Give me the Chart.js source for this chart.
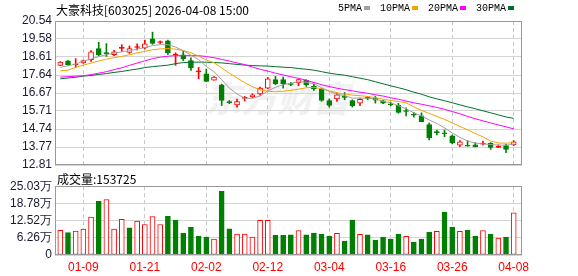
<!DOCTYPE html>
<html>
<head>
<meta charset="utf-8">
<script src="https://cdn.jsdelivr.net/npm/chart.js@4.4.1/dist/chart.umd.min.js"></script>
<style>
    body { margin: 0; width: 578px; height: 276px; overflow: hidden; position: relative; background: #fff; }
    #title { position: absolute; left: 56px; top: 1px; font: 12px "Noto Sans CJK SC"; color: #000; white-space: nowrap; }
    #legend { position: absolute; left: 338px; top: 3px; font: 10px "Liberation Mono"; color: #000; white-space: nowrap; }
    #legend .mk { display: inline-block; width: 6px; height: 4px; margin: 0 10px 1px 2px; vertical-align: middle; }
    #vol-title { position: absolute; left: 57px; top: 170px; font: 12px "Noto Sans CJK SC"; color: #000; white-space: nowrap; }
    #wm { position: absolute; left: 205px; top: 70px; font: italic bold 36px "Noto Sans CJK SC"; color: #f1f1f1; white-space: nowrap; }
    #price { position: absolute; left: 0; top: 0; }
    #volume { position: absolute; left: 0; top: 176px; }
</style>
</head>
<body>
<div id="wm">东方财富</div>
<canvas id="price" width="578" height="176"></canvas>
<canvas id="volume" width="578" height="100"></canvas>
<div id="title">大豪科技[603025] 2026-04-08 15:00</div>
<div id="legend">5PMA<span class="mk" style="background:#a0a0a0"></span>10PMA<span class="mk" style="background:#f5a300"></span>20PMA<span class="mk" style="background:#ff00ff"></span>30PMA<span class="mk" style="background:#00702c"></span></div>
<div id="vol-title">成交量:153725</div>

<script>
// 交易日
const dates = ['01-06','01-07','01-08','01-09','01-12','01-13','01-14','01-15','01-16','01-19',
    '01-20','01-21','01-22','01-23','01-26','01-27','01-28','01-29','01-30','02-02',
    '02-03','02-04','02-05','02-06','02-09','02-10','02-11','02-12','02-13','02-24',
    '02-25','02-26','02-27','03-02','03-03','03-04','03-05','03-06','03-09','03-10',
    '03-11','03-12','03-13','03-16','03-17','03-18','03-19','03-20','03-23','03-24',
    '03-25','03-26','03-27','03-30','03-31','04-01','04-02','04-03','04-07','04-08'];

// K线 (开/高/低/收)
const openP = [18.16,18.40,18.20,18.29,18.47,19.06,18.84,18.73,19.07,18.86,
    19.12,19.10,19.58,19.39,19.47,18.71,18.73,18.41,17.81,17.71,
    17.37,17.12,16.21,16.03,16.39,16.46,16.62,16.94,17.39,17.39,
    17.18,17.21,17.35,17.03,16.89,16.27,16.36,16.49,16.27,16.13,
    16.44,16.40,16.26,16.09,16.01,15.73,15.53,15.45,14.98,14.60,
    14.54,14.37,13.87,13.87,13.89,13.93,13.98,13.76,13.85,13.89];
const highP = [18.36,18.42,18.52,18.44,18.95,19.40,19.33,18.97,19.27,19.20,
    19.31,19.51,19.94,19.47,19.51,18.83,18.91,18.56,18.05,17.96,
    17.55,17.15,16.27,16.35,16.49,16.63,16.99,17.51,17.57,17.53,
    17.24,17.43,17.39,17.17,16.92,16.35,16.67,16.70,16.31,16.40,
    16.49,16.49,16.28,16.18,16.12,15.88,15.63,15.61,15.06,14.69,
    14.69,14.42,14.12,14.12,14.01,14.09,14.01,13.89,13.92,14.12];
const lowP = [18.14,18.16,18.05,18.27,18.37,18.68,18.64,18.68,18.91,18.81,
    18.99,19.04,19.29,19.33,18.75,18.16,18.41,17.89,17.44,17.28,
    17.36,16.00,16.10,15.92,16.24,16.42,16.56,16.90,17.12,16.94,
    17.07,17.07,17.03,16.81,16.23,15.92,16.22,16.31,15.92,16.00,
    16.31,16.13,16.10,15.99,15.59,15.45,15.38,15.13,14.15,14.42,
    14.33,13.94,13.79,13.82,13.78,13.87,13.65,13.74,13.47,13.85];
const closeP = [18.34,18.20,18.23,18.41,18.88,18.73,18.79,18.88,19.12,19.06,
    19.17,19.31,19.33,19.44,18.83,18.76,18.50,18.02,17.86,17.30,
    17.53,16.27,16.16,16.22,16.44,16.58,16.94,17.44,17.17,17.17,
    17.13,17.39,17.12,16.89,16.27,16.01,16.58,16.44,15.99,16.34,
    16.39,16.29,16.13,16.04,15.63,15.68,15.48,15.14,14.26,14.55,
    14.49,14.01,14.05,13.82,13.78,13.98,13.76,13.81,13.65,14.06];

// 均线
const ma5 = [18.05,18.14,18.22,18.39,18.49,18.63,18.73,18.82,18.88,18.95,
    19.03,19.11,19.22,19.27,19.27,19.14,18.95,18.71,18.47,18.10,
    17.82,17.39,16.94,16.62,16.39,16.39,16.52,16.79,16.98,17.12,
    17.20,17.28,17.25,17.17,16.96,16.76,16.61,16.53,16.40,16.40,
    16.40,16.34,16.23,16.15,15.99,15.83,15.61,15.45,15.23,15.04,
    14.80,14.53,14.29,14.10,13.99,13.94,13.91,13.88,13.88,13.92];
const ma10 = [17.87,17.90,18.05,18.17,18.28,18.39,18.49,18.57,18.64,18.73,
    18.83,18.91,19.00,19.04,19.06,19.03,18.95,18.84,18.65,18.44,
    18.30,18.03,17.74,17.48,17.23,17.01,16.85,16.77,16.74,16.77,
    16.82,16.88,16.96,16.98,16.90,16.79,16.69,16.62,16.56,16.53,
    16.49,16.42,16.34,16.27,16.22,16.15,15.93,15.74,15.58,15.42,
    15.26,15.07,14.88,14.70,14.50,14.32,14.10,13.99,13.98,14.01];
const ma20 = [17.53,17.55,17.58,17.60,17.66,17.74,17.82,17.93,18.03,18.16,
    18.28,18.40,18.52,18.60,18.65,18.68,18.68,18.68,18.68,18.63,
    18.57,18.48,18.39,18.29,18.20,18.07,17.95,17.85,17.74,17.64,
    17.55,17.46,17.36,17.24,17.12,17.02,16.93,16.86,16.79,16.72,
    16.66,16.58,16.51,16.42,16.34,16.24,16.15,16.07,15.99,15.90,
    15.80,15.68,15.56,15.42,15.29,15.18,15.07,14.96,14.86,14.75];
const ma30 = [17.44,17.48,17.52,17.58,17.62,17.67,17.72,17.78,17.83,17.90,
    17.96,18.04,18.09,18.13,18.17,18.25,18.31,18.33,18.33,18.33,
    18.31,18.29,18.25,18.21,18.17,18.15,18.13,18.12,18.09,18.06,
    18.04,17.99,17.95,17.90,17.82,17.74,17.68,17.63,17.55,17.47,
    17.39,17.28,17.17,17.06,16.96,16.85,16.72,16.61,16.47,16.36,
    16.26,16.15,16.04,15.93,15.83,15.72,15.61,15.50,15.39,15.31];

// 成交量 (万) 及涨跌
const volume = [9.0,8.2,8.7,9.4,13.8,19.5,20.2,9.4,13.0,9.9,
    12.3,11.1,14.0,11.1,14.1,12.6,7.9,10.1,6.9,6.5,
    5.8,23.2,9.5,7.6,7.6,6.5,12.6,12.6,7.2,7.2,
    7.3,8.9,7.3,8.0,7.6,6.9,7.9,5.1,12.7,7.5,
    7.3,5.4,6.5,5.8,7.6,6.8,4.7,5.8,8.3,8.6,
    15.6,10.2,8.6,9.1,6.9,8.9,7.6,6.2,6.5,15.37];
const volUp = [1,0,1,1,1,0,1,1,1,0, 1,1,1,1,0,0,0,0,0,0,
    1,0,0,1,1,1,1,1,0,0, 0,1,0,0,0,0,1,0,0,1,
    0,0,0,0,0,1,0,0,0,1, 0,0,1,0,0,1,0,1,0,1];

// 刻度
const priceTicks = [12.81,13.77,14.74,15.71,16.67,17.64,18.61,19.58,20.54];
const volTicks = [0,6.26,12.52,18.78,25.03];
const dateTicks = ['01-09','01-21','02-02','02-12','03-04','03-16','03-26','04-08'];

const RED = '#ff0000';
const GREEN = '#008000';
const X_MIN = -0.69, X_MAX = 60.08;
const dateIdx = dateTicks.map(d => dates.indexOf(d));

const framePlugin = {
    id: 'frame',
    afterDraw(chart) {
        const { ctx, chartArea: a } = chart;
        ctx.save();
        ctx.strokeStyle = '#999';
        ctx.lineWidth = 1;
        ctx.strokeRect(Math.round(a.left) + 0.5, Math.round(a.top) + 0.5,
            Math.round(a.right - a.left) - 1, Math.round(a.bottom - a.top) - 1);
        ctx.restore();
    }
};

function xAxis(showLabels) {
    return {
        type: 'linear',
        min: X_MIN,
        max: X_MAX,
        offset: false,
        afterBuildTicks: s => { s.ticks = dateIdx.map(v => ({ value: v })); },
        afterFit: s => { s.height = showLabels ? 21 : 0; },
        grid: { color: '#c8c8c8', drawTicks: false, offset: false },
        border: { display: false, dash: [4, 3] },
        ticks: {
            display: showLabels,
            color: RED,
            padding: 5,
            maxRotation: 0,
            autoSkip: false,
            font: { family: 'Liberation Sans', size: 12 },
            callback: v => dates[v]
        }
    };
}

function yAxis(lo, hi, ticks, fmt) {
    return {
        min: lo,
        max: hi,
        afterBuildTicks: s => { s.ticks = ticks.map(v => ({ value: v })); },
        afterFit: s => { s.width = 55; },
        grid: { color: '#d4d4d4', drawTicks: false },
        border: { display: false },
        ticks: {
            color: '#1a1a33',
            padding: 3,
            autoSkip: false,
            font: { family: 'Liberation Sans', size: 12 },
            callback: fmt
        }
    };
}

const candleUp = dates.map((d, i) => closeP[i] >= openP[i]);
const pts = arr => arr.map((v, i) => ({ x: i, y: v }));
const maLine = (data, color) => ({
    type: 'line', data: pts(data), borderColor: color, borderWidth: 1,
    pointRadius: 0, tension: 0, order: 0
});

new Chart(document.getElementById('price'), {
    data: {
        datasets: [
            maLine(ma5, '#a0a0a0'),
            maLine(ma10, '#f5a300'),
            maLine(ma20, '#ff00ff'),
            maLine(ma30, '#00702c'),
            {
                type: 'bar',
                data: dates.map((d, i) => ({ x: i, y: [openP[i], closeP[i]] })),
                backgroundColor: dates.map((d, i) => candleUp[i]
                    ? (Math.abs(closeP[i] - openP[i]) < 0.08 ? RED : '#fff') : GREEN),
                borderColor: candleUp.map(u => u ? RED : GREEN),
                borderWidth: 1,
                borderSkipped: false,
                barThickness: 5,
                grouped: false,
                order: 1
            },
            {
                type: 'bar',
                data: dates.map((d, i) => ({ x: i, y: [lowP[i], highP[i]] })),
                backgroundColor: candleUp.map(u => u ? RED : GREEN),
                borderWidth: 0,
                barThickness: 1,
                grouped: false,
                order: 2
            }
        ]
    },
    options: {
        responsive: false,
        animation: false,
        layout: { padding: { top: 21, right: 56, bottom: 11, left: 0 } },
        plugins: { legend: { display: false }, tooltip: { enabled: false } },
        scales: {
            x: xAxis(false),
            y: yAxis(12.81, 20.54, priceTicks, v => v.toFixed(2))
        }
    },
    plugins: [framePlugin]
});

new Chart(document.getElementById('volume'), {
    type: 'bar',
    data: {
        datasets: [{
            data: pts(volume),
            backgroundColor: volUp.map(u => u ? '#fff' : GREEN),
            borderColor: volUp.map(u => u ? RED : GREEN),
            borderWidth: 1,
            borderSkipped: false,
            barThickness: 5
        }]
    },
    options: {
        responsive: false,
        animation: false,
        layout: { padding: { top: 10, right: 56, bottom: 0, left: 0 } },
        plugins: { legend: { display: false }, tooltip: { enabled: false } },
        scales: {
            x: xAxis(true),
            y: yAxis(0, 25.03, volTicks, v => v === 0 ? '0' : v.toFixed(2) + '万')
        }
    },
    plugins: [framePlugin]
});
</script>
</body>
</html>
